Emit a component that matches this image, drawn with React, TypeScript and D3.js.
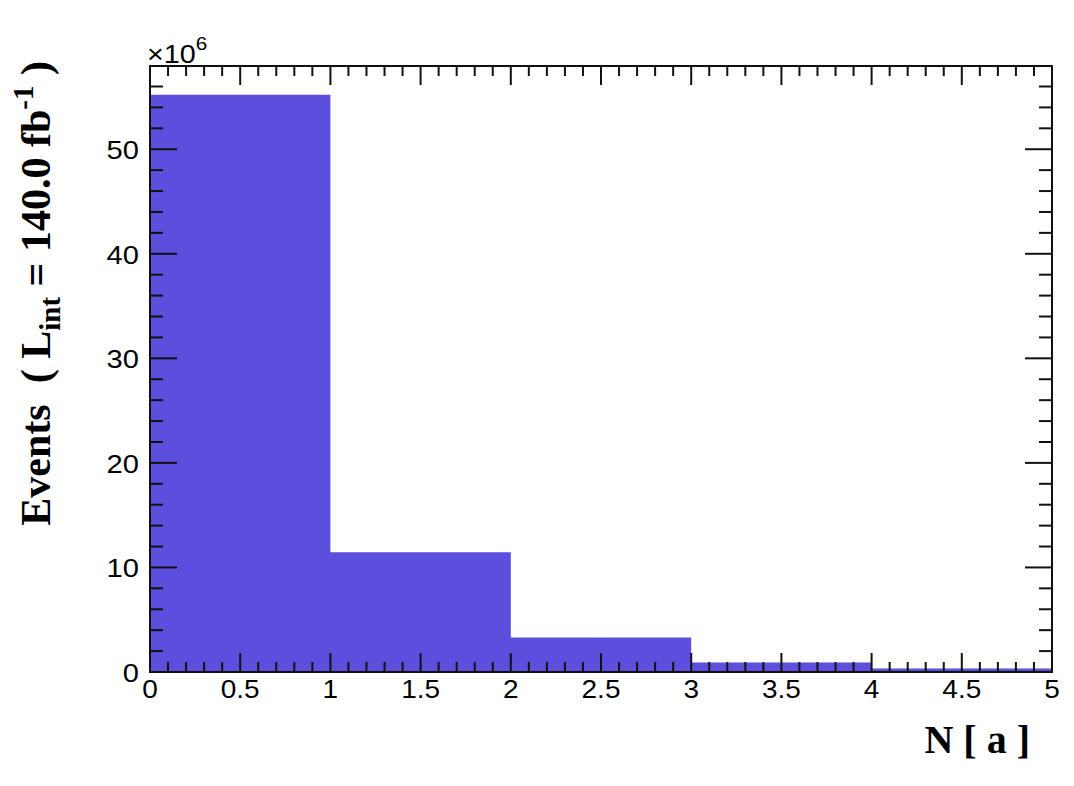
import React from "react";
import * as d3 from "d3";

const binEdges = [0, 1, 2, 3, 4, 5];
const binValues = [55.2, 11.45, 3.3, 0.9, 0.33]; // ×10^6
const xTicks = [0, 0.5, 1, 1.5, 2, 2.5, 3, 3.5, 4, 4.5, 5];
const xTickLabels = ["0", "0.5", "1", "1.5", "2", "2.5", "3", "3.5", "4", "4.5", "5"];
const yTicks = [0, 10, 20, 30, 40, 50];
const yMax = 57.96;

const W = 1074, H = 786;
const L = 150, R = 1052, T = 66, B = 672;

export default function App() {
  const x = d3.scaleLinear().domain([0, 5]).range([L, R]);
  const y = d3.scaleLinear().domain([0, yMax]).range([B, T]);
  const fill = "#5d4fdd";
  const xMinor = d3.range(0, 5.0001, 0.1).map((v) => +v.toFixed(2));
  const yMinor = d3.range(0, yMax, 2);
  const sans = "'Liberation Sans', Arial, Helvetica, sans-serif";
  const serif = "'Liberation Serif', 'Times New Roman', serif";
  const isMajorX = (v: number) => Math.abs(v * 2 - Math.round(v * 2)) < 1e-6;
  const pts: [number, number][] = [[binEdges[0], 0]];
  binValues.forEach((v, i) => {
    pts.push([binEdges[i], v]);
    pts.push([binEdges[i + 1], v]);
  });
  pts.push([binEdges[binEdges.length - 1], 0]);
  const area = d3.line<[number, number]>().x((d) => x(d[0])).y((d) => y(d[1]))(pts) + "Z";
  const sx = 1.12;
  return (
    <svg width={W} height={H} style={{ position: "absolute", left: 0, top: 0, background: "#fff" }}>
      <rect x={0} y={0} width={W} height={H} fill="#fff" />
      <path d={area} fill={fill} />
      <rect x={L} y={T} width={R - L} height={B - T} fill="none" stroke="#111" strokeWidth={2} />
      {xMinor.map((v, i) => {
        const len = isMajorX(v) ? 19 : 10;
        return (
          <g key={i} stroke="#111" strokeWidth={2}>
            <line x1={x(v)} x2={x(v)} y1={B} y2={B - len} />
            <line x1={x(v)} x2={x(v)} y1={T} y2={T + len} />
          </g>
        );
      })}
      {yMinor.map((v, i) => {
        const major = Math.round(v) % 10 === 0;
        const len = major ? 27 : 13;
        return (
          <g key={i} stroke="#111" strokeWidth={2}>
            <line x1={L} x2={L + len} y1={y(v)} y2={y(v)} />
            <line x1={R} x2={R - len} y1={y(v)} y2={y(v)} />
          </g>
        );
      })}
      {xTicks.map((v, i) => (
        <text key={i} transform={`translate(${x(v)},698) scale(${sx},1)`} textAnchor="middle" fontFamily={sans} fontSize={25} fill="#000">
          {xTickLabels[i]}
        </text>
      ))}
      {yTicks.map((v, i) => (
        <text key={i} transform={`translate(139,${y(v) + 10}) scale(${sx},1)`} textAnchor="end" fontFamily={sans} fontSize={26} fill="#000">
          {String(v)}
        </text>
      ))}
      <text transform={`translate(147,63) scale(1.15,1)`} fontFamily={sans} fontSize={25} fill="#000">
        ×10<tspan dy={-13} fontSize={18}>6</tspan>
      </text>
      <text x={1030} y={753} textAnchor="end" fontFamily={serif} fontWeight="bold" fontSize={40} fill="#000" style={{ whiteSpace: "pre" }}>
        N [ a ]
      </text>
      <text transform={`translate(50, 61) rotate(-90)`} textAnchor="end" fontFamily={serif} fontWeight="bold" fontSize={42} fill="#000" style={{ whiteSpace: "pre" }}>
        {"Events  ( L"}
        <tspan dy={10} fontSize={29}>int</tspan>
        <tspan dy={-10}>{" = 140.0 fb"}</tspan>
        <tspan dy={-17} fontSize={29}>-1</tspan>
        <tspan dy={17}>{" )"}</tspan>
      </text>
    </svg>
  );
}
